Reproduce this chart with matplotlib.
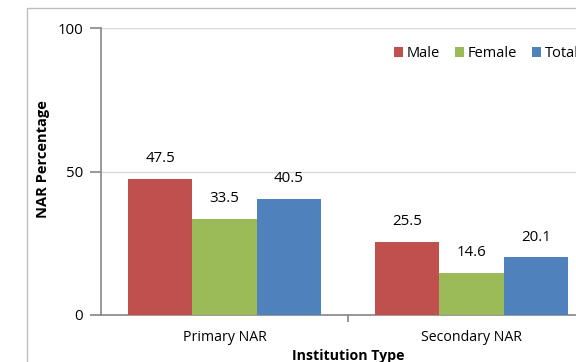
import matplotlib
matplotlib.use("Agg")
import matplotlib.pyplot as plt
from matplotlib.patches import Rectangle
import numpy as np

# данные графика
categories = ["Primary NAR", "Secondary NAR"]
series_names = ["Male", "Female", "Total"]
male = [47.5, 25.5]
female = [33.5, 14.6]
total = [40.5, 20.1]
colors = ["#C0504D", "#9BBB59", "#4F81BD"]

plt.rcParams["font.family"] = ["Open Sans", "DejaVu Sans"]

fig = plt.figure(figsize=(5.76, 3.62), dpi=100)
# внешняя рамка области диаграммы (обрезана справа и снизу)
fig.patches.append(Rectangle((27 / 576, -0.1), 1.2, 1 - 8 / 362 + 0.1,
                             transform=fig.transFigure, fill=False,
                             edgecolor="#BEBEBE", linewidth=1.0))

ax = fig.add_axes([101 / 576, 1 - 315 / 362, 494 / 576, 287 / 362])

x = np.arange(len(categories))
w = 0.26
for i, (name, vals) in enumerate(zip(series_names, [male, female, total])):
    bars = ax.bar(x + (i - 1) * w, vals, width=w, color=colors[i], label=name, zorder=3)
    for b, v in zip(bars, vals):
        ax.annotate(f"{v}", (b.get_x() + b.get_width() / 2, v),
                    xytext=(0, 14.5), textcoords="offset points",
                    ha="center", va="center", fontsize=10.8)

ax.set_xlim(-0.5, 1.5)
ax.set_ylim(0, 100)
ax.set_yticks([0, 50, 100])
ax.set_xticks(x)
ax.set_xticklabels(categories)
ax.set_xticks([0.5, 1.5], minor=True)
ax.tick_params(axis="x", which="major", length=0, pad=11, labelsize=10.2)
ax.tick_params(axis="x", which="minor", length=5, color="#868686", width=1.2)
ax.tick_params(axis="y", length=8, color="#868686", width=1.2, labelsize=10.8, pad=5)
ax.grid(axis="y", color="#D9D9D9", linewidth=1.0, zorder=0)

for side in ["top", "right"]:
    ax.spines[side].set_visible(False)
for side in ["left", "bottom"]:
    ax.spines[side].set_color("#868686")
    ax.spines[side].set_linewidth(1.2)

ax.set_ylabel("NAR Percentage", fontsize=10.5, fontweight="bold")
ax.yaxis.set_label_coords(-0.103, 0.544)
ax.set_xlabel("Institution Type", fontsize=10.2, fontweight="bold", labelpad=3)

# легенда, как в оригинале, уходит за правый край
ax.legend(loc="upper left", bbox_to_anchor=(388 / 576, 1 - 40 / 362),
          bbox_transform=fig.transFigure, ncol=3, frameon=False,
          fontsize=10.5, handlelength=0.65, handleheight=0.65,
          handletextpad=0.25, columnspacing=1.0, borderaxespad=0)

fig.savefig("out.png", dpi=100)
